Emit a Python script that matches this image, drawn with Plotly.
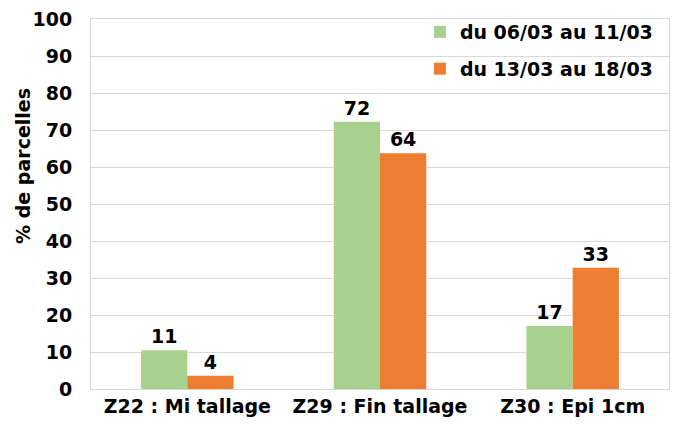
import plotly.graph_objects as go

categories = ["Z22 : Mi tallage", "Z29 : Fin tallage", "Z30 : Epi 1cm"]
series1_name = "du 06/03 au 11/03"
series1_values = [10.5, 72.2, 17.0]
series1_labels = ["11", "72", "17"]
series2_name = "du 13/03 au 18/03"
series2_values = [3.6, 63.7, 32.8]
series2_labels = ["4", "64", "33"]
y_ticks = [0, 10, 20, 30, 40, 50, 60, 70, 80, 90, 100]
y_title = "% de parcelles"

FONT = "DejaVu Sans"
fs = 19

fig = go.Figure()
fig.add_trace(go.Bar(
    x=categories, y=series1_values, name=series1_name,
    text=series1_labels, textposition="outside",
    textfont=dict(family=FONT, size=fs, color="#000000", weight="bold"),
    marker=dict(color="#A9D18E", line=dict(width=0)),
    cliponaxis=False, legendgroup="a",
))
fig.add_trace(go.Bar(
    x=categories, y=series2_values, name=series2_name,
    text=series2_labels, textposition="outside",
    textfont=dict(family=FONT, size=fs, color="#000000", weight="bold"),
    marker=dict(color="#ED7D31", line=dict(width=0)),
    cliponaxis=False, legendgroup="b",
))

fig.update_layout(
    width=676, height=430,
    margin=dict(l=91, r=7, t=19, b=41),
    paper_bgcolor="white", plot_bgcolor="white",
    barmode="group", bargap=0.52, bargroupgap=0,
    font=dict(family=FONT, size=fs, color="#000000", weight="bold"),
    showlegend=True,
    legend=dict(
        x=0.569, y=1.016, xanchor="left", yanchor="top",
        bgcolor="rgba(0,0,0,0)",
        font=dict(family=FONT, size=fs, color="#000000", weight="bold"),
        tracegroupgap=9,
    ),
    annotations=[dict(
        text=y_title, xref="paper", yref="paper", x=0, y=0.603,
        xanchor="center", yanchor="middle", xshift=-68, textangle=-90,
        showarrow=False, font=dict(family=FONT, size=fs, weight="bold", color="#000000"),
    )],
)
fig.update_xaxes(
    automargin=False,
    showgrid=False, showline=True, linecolor="#D9D9D9", linewidth=1,
    mirror=True, ticks="", tickfont=dict(family=FONT, size=fs, weight="bold"),
)
fig.update_yaxes(
    automargin=False,
    range=[0, 100], tickvals=y_ticks, showgrid=True, gridcolor="#D9D9D9",
    gridwidth=1, showline=True, linecolor="#D9D9D9", linewidth=1, mirror=True,
    zeroline=False, ticks="", ticklabelstandoff=14,
    tickfont=dict(family=FONT, size=fs, weight="bold"),
)

fig.write_html(
    "out.html",
    config={"displayModeBar": False},
    post_script="document.body.style.margin='0';document.body.style.overflow='hidden';",
)
